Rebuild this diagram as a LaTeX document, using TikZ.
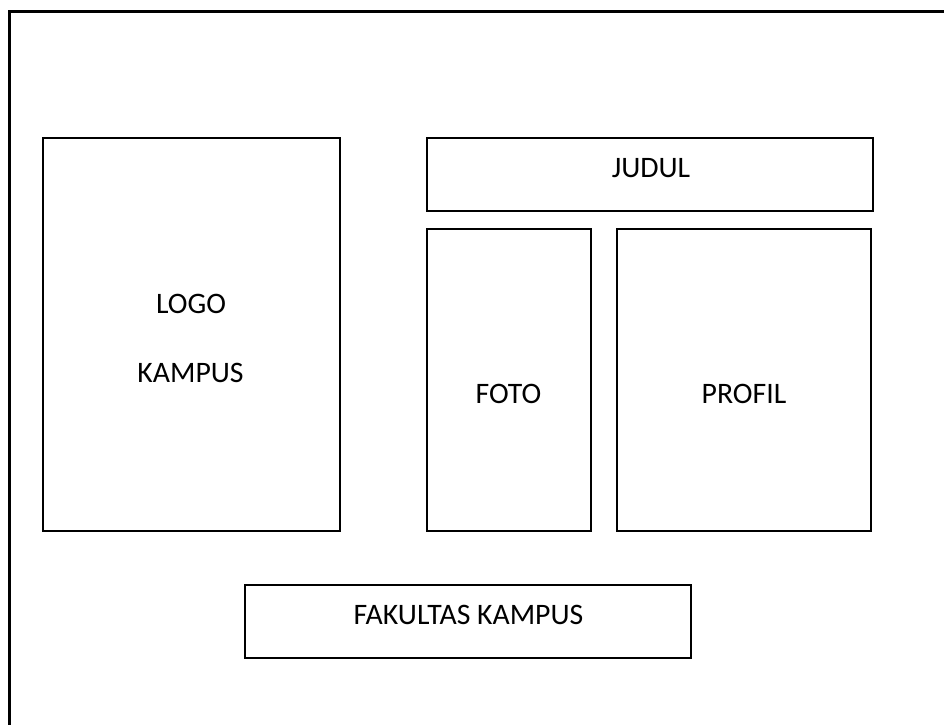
\documentclass[tikz,border=0pt]{standalone}
\usepackage{fontspec}
\setmainfont{Carlito}
\usepackage{tikz}
\usetikzlibrary{positioning}
\tikzset{box/.style={draw,rectangle,line width=0.9pt,inner sep=0pt,outer sep=0pt},
  lbl/.style={inner sep=0pt,font=\fontsize{22.3}{27}\selectfont},
  frame/.style={line width=2.3pt}}

\begin{document}
\begin{tikzpicture}[x=0.75pt,y=-0.75pt]
				\useasboundingbox (0,0) rectangle (944,724);
				\coordinate (F1) at (9.5,730);
				\coordinate (F2) at (950,11.5);
				\draw[frame] (F1) |- (F2);

				\node[box,minimum width=297*0.75pt,minimum height=393*0.75pt] (logo) at (191.5,334.5) {};
				\node[box,minimum width=446*0.75pt,minimum height=73*0.75pt] (judul) at (650,174.5) {};
				\node[box,minimum width=164*0.75pt,minimum height=302*0.75pt] (foto) at (509,380) {};
				\node[box,minimum width=254*0.75pt,minimum height=302*0.75pt] (profil) at (744,380) {};
				\node[box,minimum width=446*0.75pt,minimum height=73*0.75pt] (fakultas) at (468,621.5) {};

				\node[lbl] (t-logo) at (191,304) {LOGO};
				\node[lbl] (t-kampus) at (190.5,372.5) {KAMPUS};
				\node[lbl] (t-judul) at (651,168.3) {JUDUL};
				\node[lbl] (t-foto) at (508.5,394) {FOTO};
				\node[lbl] (t-profil) at (744,394) {PROFIL};
				\node[lbl] (t-fakultas) at (468.5,615) {FAKULTAS KAMPUS};
			\end{tikzpicture}
\end{document}
